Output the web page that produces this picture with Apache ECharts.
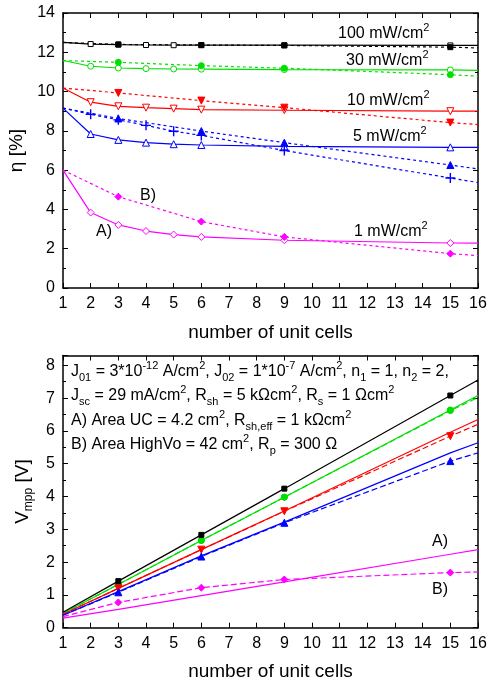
<!DOCTYPE html>
<html>
<head>
<meta charset="utf-8">
<script src="https://cdn.jsdelivr.net/npm/echarts@6/dist/echarts.min.js"></script>
<style>
  html, body { margin: 0; padding: 0; background: #fff; }
  #chart { width: 488px; height: 679px; }
</style>
</head>
<body>
<div id="chart"></div>
<script>
// top panel: efficiency [%] vs number of unit cells
const effCells = [1, 2, 3, 4, 5, 6, 9, 15, 16];
const effCellsB = [1, 3, 6, 9, 15, 16];
const eff100A = [12.5, 12.42, 12.39, 12.37, 12.36, 12.36, 12.36, 12.35, 12.35];
const eff100B = [12.5, 12.4, 12.37, 12.35, 12.26, 12.22];
const eff30A = [11.58, 11.29, 11.2, 11.17, 11.15, 11.14, 11.12, 11.1, 11.08];
const eff30B = [11.58, 11.49, 11.32, 11.19, 10.86, 10.78];
const eff10A = [10.18, 9.46, 9.25, 9.18, 9.13, 9.08, 9.05, 9.0, 9.0];
const eff10B = [10.18, 9.93, 9.54, 9.18, 8.42, 8.32];
const eff5A = [9.16, 7.84, 7.54, 7.4, 7.32, 7.28, 7.21, 7.16, 7.16];
const eff5B = [9.16, 8.63, 7.99, 7.4, 6.26, 6.06];
const eff5Plus = [9.16, 8.84, 8.56, 8.28, 7.98, 7.77, 7.0, 5.6, 5.37];
const eff1A = [6.0, 3.84, 3.21, 2.9, 2.72, 2.6, 2.43, 2.29, 2.28];
const eff1B = [6.0, 4.65, 3.38, 2.6, 1.75, 1.65];

// bottom panel: V_mpp [V] vs number of unit cells
const vCells = [1, 3, 6, 9, 15, 16];
const v100 = [0.47, 1.42, 2.83, 4.24, 7.08, 7.55];
const v30A = [0.44, 1.32, 2.66, 3.98, 6.64, 7.08];
const v30B = [0.44, 1.32, 2.66, 3.98, 6.62, 7.02];
const v10A = [0.41, 1.2, 2.38, 3.56, 5.96, 6.35];
const v10B = [0.41, 1.2, 2.38, 3.55, 5.84, 6.2];
const v5A = [0.38, 1.1, 2.19, 3.22, 5.33, 5.64];
const v5B = [0.38, 1.08, 2.17, 3.2, 5.08, 5.33];
const v1A = [0.29, 0.56, 0.98, 1.4, 2.24, 2.38];
const v1B = [0.34, 0.77, 1.22, 1.47, 1.68, 1.7];

const xTicks = { min: 1, max: 16, interval: 1 };

const FONT = "'Liberation Sans', Arial, sans-serif";
const BLACK = "#000000";
const GREEN = "#00e000";
const RED = "#ff0000";
const BLUE = "#0000ff";
const MAGENTA = "#ff00ff";
const PLUS = "path://M0,5L10,5M5,0L5,10";

// build one line series; only x values listed in `marked` get a symbol
function makeLine(idx, xs, ys, o) {
  const marked = o.marked || [];
  return {
    type: "line",
    xAxisIndex: idx,
    yAxisIndex: idx,
    data: xs.map((x, i) => {
      const item = { value: [x, ys[i]] };
      if (!marked.includes(x)) item.symbol = "none";
      return item;
    }),
    symbol: o.symbol || "none",
    symbolSize: o.size || 6,
    symbolRotate: o.rotate || 0,
    showAllSymbol: true,
    lineStyle: {
      color: o.color,
      width: 1.2,
      type: o.dash || "solid",
    },
    itemStyle: {
      color: o.hollow ? "#ffffff" : o.color,
      borderColor: o.color,
      borderWidth: o.symbol === PLUS ? 1.4 : 1,
    },
    emphasis: { disabled: true },
    animation: false,
    z: o.z || 2,
  };
}

const solidMarks = [2, 3, 4, 5, 6, 9, 15];
const simMarks = [3, 6, 9, 15];
const topDash = [3, 3];
const botDash = [6, 3];

function axisX(grid, pos, showLabel, name) {
  return {
    type: "value",
    gridIndex: grid,
    position: pos,
    ...xTicks,
    name: name || "",
    nameLocation: "middle",
    nameGap: 35,
    nameTextStyle: { color: BLACK, fontSize: 19, fontFamily: FONT },
    axisLine: { onZero: false, lineStyle: { color: BLACK, width: 1.5 } },
    axisTick: { show: true, inside: true, length: 5, lineStyle: { color: BLACK } },
    axisLabel: { show: showLabel, color: BLACK, fontSize: 16, fontFamily: FONT, margin: 8 },
    splitLine: { show: false },
  };
}

function axisY(grid, pos, showLabel, max, interval, name, rich) {
  return {
    type: "value",
    gridIndex: grid,
    position: pos,
    min: 0,
    max: max,
    interval: interval,
    name: name || "",
    nameLocation: "middle",
    nameGap: 28,
    nameTextStyle: { color: BLACK, fontSize: 19, fontFamily: FONT, rich: rich },
    axisLine: { onZero: false, lineStyle: { color: BLACK, width: 1.5 } },
    axisTick: { show: true, inside: true, length: 5, lineStyle: { color: BLACK } },
    minorTick: { show: true, splitNumber: 2, length: 3, lineStyle: { color: BLACK } },
    axisLabel: {
      show: showLabel, color: BLACK, fontSize: 16, fontFamily: FONT, margin: 8,
      showMaxLabel: max === 14,
    },
    splitLine: { show: false },
    minorSplitLine: { show: false },
  };
}

const sup = { fontSize: 11, fontFamily: FONT, fill: BLACK, padding: [0, 0, 12, 0] };
const sub = { fontSize: 11, fontFamily: FONT, fill: BLACK, padding: [12, 0, 0, 0] };

function note(x, y, text, size) {
  return {
    type: "text",
    x: x,
    y: y,
    silent: true,
    style: {
      text: text,
      fill: BLACK,
      fontSize: size || 16,
      fontFamily: FONT,
      verticalAlign: "middle",
      rich: { p: sup, s: sub },
    },
  };
}

const option = {
  backgroundColor: "#ffffff",
  animation: false,
  grid: [
    { left: 63, right: 10, top: 13, height: 275, outerBoundsMode: "none" },
    { left: 63, right: 10, top: 355.5, height: 272.2, outerBoundsMode: "none" },
  ],
  xAxis: [
    axisX(0, "bottom", true, "number of unit cells"),
    axisX(1, "bottom", true, "number of unit cells"),
    axisX(0, "top", false),
    axisX(1, "top", false),
  ],
  yAxis: [
    axisY(0, "left", true, 14, 2, "η [%]"),
    axisY(1, "left", true, 8.3, 1, "{v|V}{s|mpp}{v| [V]}", {
      v: { fontSize: 19, fontFamily: FONT, color: BLACK },
      s: { fontSize: 12, fontFamily: FONT, color: BLACK, padding: [12, 0, 0, 0] },
    }),
    axisY(0, "right", false, 14, 2),
    axisY(1, "right", false, 8.3, 1),
  ],
  series: [
    // top panel, solid = A), dotted = B)
    makeLine(0, effCells, eff100A, { color: BLACK, symbol: "rect", size: 5, hollow: true, marked: solidMarks }),
    makeLine(0, effCellsB, eff100B, { color: BLACK, symbol: "rect", size: 5, dash: topDash, marked: simMarks }),
    makeLine(0, effCells, eff30A, { color: GREEN, symbol: "circle", size: 6, hollow: true, marked: solidMarks }),
    makeLine(0, effCellsB, eff30B, { color: GREEN, symbol: "circle", size: 6, dash: topDash, marked: simMarks }),
    makeLine(0, effCells, eff10A, { color: RED, symbol: "triangle", rotate: 180, size: 7, hollow: true, marked: solidMarks }),
    makeLine(0, effCellsB, eff10B, { color: RED, symbol: "triangle", rotate: 180, size: 7, dash: topDash, marked: simMarks }),
    makeLine(0, effCells, eff5A, { color: BLUE, symbol: "triangle", size: 7, hollow: true, marked: solidMarks }),
    makeLine(0, effCellsB, eff5B, { color: BLUE, symbol: "triangle", size: 7, dash: topDash, marked: simMarks }),
    makeLine(0, effCells, eff5Plus, { color: BLUE, symbol: PLUS, size: 10, dash: topDash, marked: solidMarks }),
    makeLine(0, effCells, eff1A, { color: MAGENTA, symbol: "diamond", size: 7, hollow: true, marked: solidMarks }),
    makeLine(0, effCellsB, eff1B, { color: MAGENTA, symbol: "diamond", size: 7, dash: topDash, marked: simMarks }),
    // bottom panel
    makeLine(1, vCells, v100, { color: BLACK, symbol: "rect", size: 5, marked: simMarks, z: 3 }),
    makeLine(1, vCells, v30A, { color: GREEN, symbol: "circle", size: 6, marked: simMarks }),
    makeLine(1, vCells, v30B, { color: GREEN, symbol: "circle", size: 6, dash: botDash, marked: simMarks }),
    makeLine(1, vCells, v10A, { color: RED, symbol: "none" }),
    makeLine(1, vCells, v10B, { color: RED, symbol: "triangle", rotate: 180, size: 7, dash: botDash, marked: simMarks }),
    makeLine(1, vCells, v5A, { color: BLUE, symbol: "none" }),
    makeLine(1, vCells, v5B, { color: BLUE, symbol: "triangle", size: 7, dash: botDash, marked: simMarks }),
    makeLine(1, vCells, v1A, { color: MAGENTA, symbol: "none" }),
    makeLine(1, vCells, v1B, { color: MAGENTA, symbol: "diamond", size: 7, dash: botDash, marked: simMarks }),
  ],
  graphic: [
    note(338, 34, "100 mW/cm{p|2}"),
    note(346, 61, "30 mW/cm{p|2}"),
    note(347, 101, "10 mW/cm{p|2}"),
    note(353, 137, "5 mW/cm{p|2}"),
    note(354, 232, "1 mW/cm{p|2}"),
    note(140, 196, "B)"),
    note(96, 232, "A)"),
    note(432, 542, "A)"),
    note(432, 590, "B)"),
    note(71, 372, "J{s|01} = 3*10{p|-12} A/cm{p|2}, J{s|02} = 1*10{p|-7} A/cm{p|2}, n{s|1} = 1, n{s|2} = 2,"),
    note(71, 396, "J{s|sc} = 29 mA/cm{p|2}, R{s|sh} = 5 kΩcm{p|2}, R{s|s} = 1 Ωcm{p|2}"),
    note(71, 421, "A) Area UC = 4.2 cm{p|2}, R{s|sh,eff} = 1 kΩcm{p|2}"),
    note(71, 445, "B) Area HighVo = 42 cm{p|2}, R{s|p} = 300 Ω"),
  ],
};

const chart = echarts.init(document.getElementById("chart"), null, { renderer: "canvas" });
chart.setOption(option);
</script>
</body>
</html>
